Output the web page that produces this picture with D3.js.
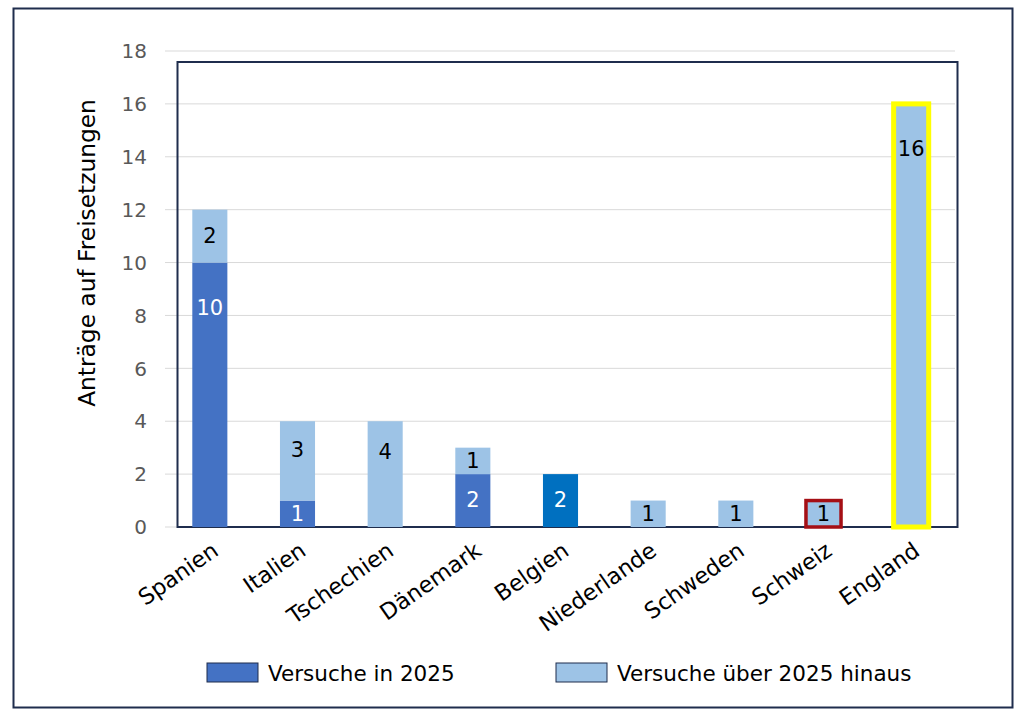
<!DOCTYPE html>
<html>
<head>
<meta charset="utf-8">
<script src="https://cdn.jsdelivr.net/npm/d3@7"></script>
<style>
  html, body { margin: 0; padding: 0; background: #fff; }
  svg { display: block; }
</style>
</head>
<body>
<svg id="chart" width="1024" height="724"></svg>
<script>
// data
const countries = ["Spanien", "Italien", "Tschechien", "Dänemark", "Belgien", "Niederlande", "Schweden", "Schweiz", "England"];
const trials2025 = [10, 1, 0, 2, 2, 0, 0, 0, 0];
const trialsBeyond = [2, 3, 4, 1, 0, 1, 1, 1, 16];
const yTicks = [0, 2, 4, 6, 8, 10, 12, 14, 16, 18];
const seriesNames = ["Versuche in 2025", "Versuche über 2025 hinaus"];

const C_DARK = "#4472c4";
const C_LIGHT = "#9dc3e6";
const C_BELGIEN = "#0070c0";
const C_FRAME = "#1f2d4d";
const FONT = "DejaVu Sans, Verdana, sans-serif";

const svg = d3.select("#chart");

// outer frame
svg.append("rect")
  .attr("x", 13.5).attr("y", 8.5).attr("width", 999).attr("height", 699)
  .attr("fill", "#fff").attr("stroke", C_FRAME).attr("stroke-width", 2);

const x = d3.scaleBand().domain(countries).range([166, 955]).paddingInner(0.6).paddingOuter(0.3);
const y = d3.scaleLinear().domain([0, 18]).range([527, 51]);

// gridlines
svg.append("g").selectAll("line")
  .data(yTicks)
  .join("line")
  .attr("x1", 165).attr("x2", 955)
  .attr("y1", d => y(d)).attr("y2", d => y(d))
  .attr("stroke", "#d9d9d9").attr("stroke-width", 1);

// y tick labels
svg.append("g").selectAll("text")
  .data(yTicks)
  .join("text")
  .attr("x", 147).attr("y", d => y(d))
  .attr("dy", "0.36em")
  .attr("text-anchor", "end")
  .attr("font-family", FONT).attr("font-size", 20)
  .attr("fill", "#595959")
  .text(d => d);

// inner plot border
svg.append("rect")
  .attr("x", 177.5).attr("y", 62).attr("width", 780).attr("height", y(0) - 62)
  .attr("fill", "none").attr("stroke", C_FRAME).attr("stroke-width", 2);

// stacked rows
const rows = countries.map((c, i) => ({
  country: c,
  a: trials2025[i],
  b: trialsBeyond[i]
}));

const bars = svg.append("g");
const bw = x.bandwidth();

// lower segment
bars.selectAll("rect.a")
  .data(rows.filter(d => d.a > 0))
  .join("rect")
  .attr("class", "a")
  .attr("x", d => x(d.country)).attr("width", bw)
  .attr("y", d => y(d.a)).attr("height", d => y(0) - y(d.a))
  .attr("fill", d => d.country === "Belgien" ? C_BELGIEN : C_DARK);

// upper segment
bars.selectAll("rect.b")
  .data(rows.filter(d => d.b > 0))
  .join("rect")
  .attr("class", "b")
  .attr("x", d => x(d.country)).attr("width", bw)
  .attr("y", d => y(d.a + d.b)).attr("height", d => y(d.a) - y(d.a + d.b))
  .attr("fill", C_LIGHT)
  .attr("stroke", d => d.country === "Schweiz" ? "#a50f15" : d.country === "England" ? "#ffff00" : "none")
  .attr("stroke-width", d => d.country === "England" ? 5 : 3.5);

// value labels: centred in short segments, nearer the top in tall ones
const labels = [];
rows.forEach(d => {
  if (d.a > 0) labels.push({ country: d.country, v: d.a, lo: 0, hi: d.a, fill: "#fff" });
  if (d.b > 0) labels.push({ country: d.country, v: d.b, lo: d.a, hi: d.a + d.b, fill: "#000" });
});
function labelY(d) {
  const top = y(d.hi), h = y(d.lo) - y(d.hi);
  return top + Math.min(h / 2, 0.1 * h + 20, 45);
}
svg.append("g").selectAll("text")
  .data(labels)
  .join("text")
  .attr("x", d => x(d.country) + bw / 2)
  .attr("y", labelY)
  .attr("dy", "0.36em")
  .attr("text-anchor", "middle")
  .attr("font-family", FONT).attr("font-size", 21)
  .attr("fill", d => d.fill)
  .text(d => d.v);

// category labels
svg.append("g").selectAll("text")
  .data(countries)
  .join("text")
  .attr("transform", d => `translate(${x(d) + bw / 2 + 10},${y(0) + 27}) rotate(-35)`)
  .attr("text-anchor", "end")
  .attr("font-family", FONT).attr("font-size", 22.5)
  .attr("fill", "#000")
  .text(d => d);

// y axis title
svg.append("text")
  .attr("transform", `translate(95,253) rotate(-90)`)
  .attr("text-anchor", "middle")
  .attr("font-family", FONT).attr("font-size", 23.3)
  .attr("fill", "#000")
  .text("Anträge auf Freisetzungen");

// legend
const legendX = [207, 556];
const legend = svg.append("g").selectAll("g")
  .data(seriesNames)
  .join("g")
  .attr("transform", (d, i) => `translate(${legendX[i]},663)`);
legend.append("rect")
  .attr("width", 51).attr("height", 19)
  .attr("fill", (d, i) => i === 0 ? C_DARK : C_LIGHT)
  .attr("stroke", C_FRAME).attr("stroke-width", 1);
legend.append("text")
  .attr("x", 61).attr("y", 10)
  .attr("dy", "0.36em")
  .attr("font-family", FONT).attr("font-size", 21.5)
  .attr("fill", "#000")
  .text(d => d);
</script>
</body>
</html>
